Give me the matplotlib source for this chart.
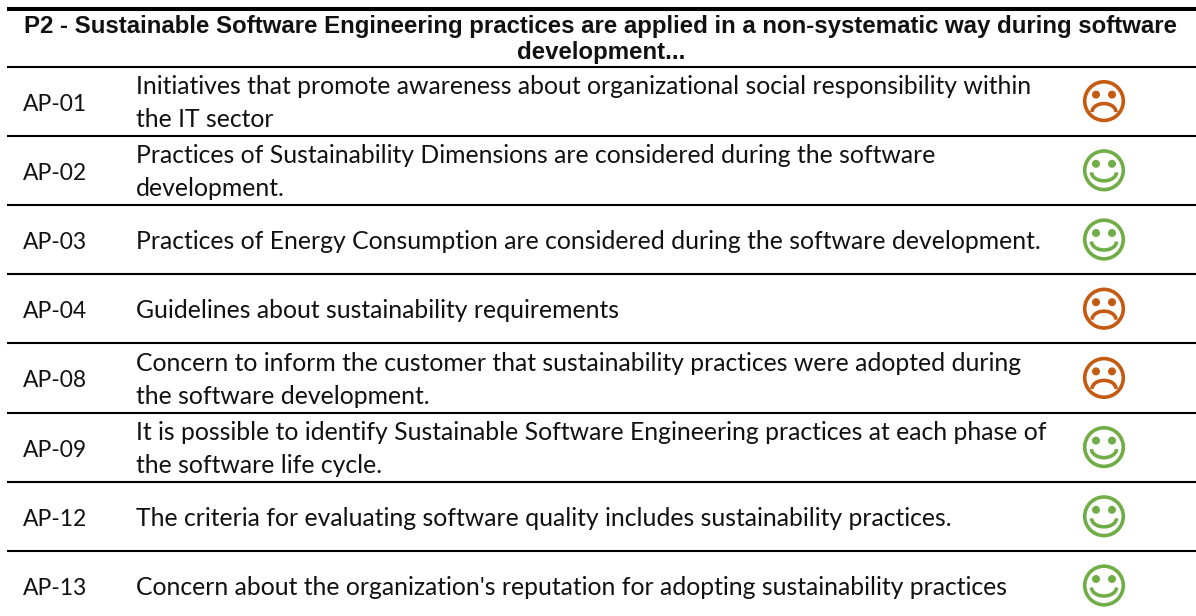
import numpy as np
import matplotlib
matplotlib.use("Agg")
import matplotlib.pyplot as plt
from matplotlib.patches import Circle

title_lines = ["P2 - Sustainable Software Engineering practices are applied in a non-systematic way during software", "development..."]
codes = ["AP-01", "AP-02", "AP-03", "AP-04", "AP-08", "AP-09", "AP-12", "AP-13"]
descriptions = [
    ["Initiatives that promote awareness about organizational social responsibility within", "the IT sector"],
    ["Practices of Sustainability Dimensions are considered during the software", "development."],
    ["Practices of Energy Consumption are considered during the software development."],
    ["Guidelines about sustainability requirements"],
    ["Concern to inform the customer that sustainability practices were adopted during", "the software development."],
    ["It is possible to identify Sustainable Software Engineering practices at each phase of", "the software life cycle."],
    ["The criteria for evaluating software quality includes sustainability practices."],
    ["Concern about the organization's reputation for adopting sustainability practices"],
]
happy = [False, True, True, False, False, True, True, True]

GREEN = "#70AD47"
ORANGE = "#C55A11"
row_h = 69.2
first_line = 66.5


def draw_face(ax, cx, cy, is_happy):
    col = GREEN if is_happy else ORANGE
    ax.add_patch(Circle((cx, cy), 19.3, fill=False, ec=col, lw=2.6))
    for dx in (-8, 8):
        ax.add_patch(Circle((cx + dx, cy - 6.5), 4, fc=col, ec="none"))
    t = np.linspace(0, np.pi, 40)
    if is_happy:
        ax.plot(cx + 12.5 * np.cos(t), cy + 2 + 8.5 * np.sin(t), color=col, lw=2.6, solid_capstyle="butt")
    else:
        ax.plot(cx + 12 * np.cos(t), cy + 11 - 8.5 * np.sin(t), color=col, lw=2.6, solid_capstyle="butt")


fig = plt.figure(figsize=(11.96, 6.16), dpi=100)
ax = fig.add_axes([0, 0, 1, 1])
ax.set_xlim(0, 1196)
ax.set_ylim(616, 0)
ax.axis("off")

ax.plot([7, 1196], [9, 9], color="black", lw=2.9, solid_capstyle="butt")
title_size = 17.44 * 1156 / 1169
ax.text(601, 32.5, title_lines[0], ha="center", va="baseline", family="Liberation Sans", weight="bold", fontsize=title_size, color="#111111")
ax.text(601, 59, title_lines[1], ha="center", va="baseline", family="Liberation Sans", weight="bold", fontsize=title_size, color="#111111")

for i in range(len(codes)):
    y_top = first_line + i * row_h
    ax.plot([7, 1196], [y_top, y_top], color="black", lw=1.5, solid_capstyle="butt")
    yc = y_top + row_h / 2
    ax.text(23, yc + 9.5, codes[i], ha="left", va="baseline", family="Lato", fontsize=16.5, color="#111111")
    lines = descriptions[i]
    y0 = yc - 7 if len(lines) == 2 else yc + 9.5
    for k in range(len(lines)):
        ax.text(136, y0 + 33 * k, lines[k], ha="left", va="baseline", family="Lato", fontsize=17.85, color="#111111")
    draw_face(ax, 1104, yc, happy[i])

fig.savefig("out.png", dpi=100)
